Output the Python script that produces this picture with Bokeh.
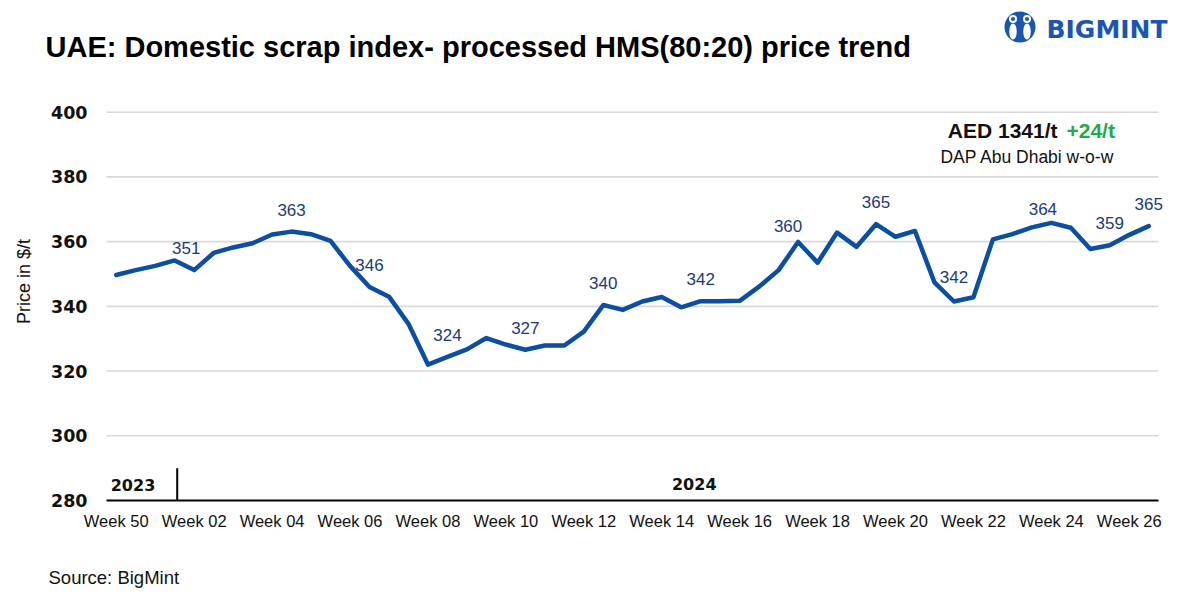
from bokeh.plotting import figure
from bokeh.models import FixedTicker, Range1d, ColumnDataSource
from bokeh.core.properties import value
from bokeh.embed import file_html
from bokeh.resources import INLINE

# ---------------- data ----------------
prices = [349.7, 351.2, 352.5, 354.2, 351.2, 356.5, 358.2, 359.5, 362.2, 363.1,
          362.3, 360.2, 352.5, 346.0, 343.0, 334.6, 322.0, 324.4, 326.7, 330.2,
          328.2, 326.6, 327.9, 327.9, 332.2, 340.4, 338.9, 341.5, 342.9, 339.7,
          341.6, 341.6, 341.7, 346.1, 351.2, 359.9, 353.5, 362.8, 358.4, 365.4,
          361.5, 363.3, 347.4, 341.5, 342.8, 360.7, 362.3, 364.4, 365.8, 364.3,
          357.7, 358.9, 362.1, 364.8]
tick_labels = ["Week 50", "Week 02", "Week 04", "Week 06", "Week 08", "Week 10",
               "Week 12", "Week 14", "Week 16", "Week 18", "Week 20", "Week 22",
               "Week 24", "Week 26"]
labelled_points = [4, 9, 13, 17, 21, 25, 30, 35, 39, 43, 47, 51, 53]
year_labels = ["2023", "2024"]
y_ticks = [280, 300, 320, 340, 360, 380, 400]

TITLE = "UAE: Domestic scrap index- processed HMS(80:20) price trend"
BLUE = "#0B4EA2"
LOGO_BLUE = "#1A56B0"
GRID = "#d9d9d9"

# ---------------- geometry (page pixels) ----------------
W, H = 1200, 600
FL, FR, FT, FB = 106, 1158, 111.7, 500     # plot-area edges
N = len(prices)
Y0, Y1 = 280, 400

step = (FR - FL) / N
ppu = (FB - FT) / (Y1 - Y0)
x_lo = -0.5 - FL / step
x_hi = -0.5 + (W - FL) / step
y_lo = Y0 - (H - FB) / ppu
y_hi = Y1 + FT / ppu

p = figure(width=W, height=H, output_backend="svg", toolbar_location=None,
           x_range=Range1d(x_lo, x_hi), y_range=Range1d(y_lo, y_hi),
           min_border=0)
p.extra_x_ranges = {"px": Range1d(0, W)}
p.extra_y_ranges = {"py": Range1d(H, 0)}
p.outline_line_color = None
p.background_fill_color = "white"
p.border_fill_color = "white"
p.xgrid.visible = False
p.ygrid.visible = False

# ---------------- axes (fixed inside the canvas) ----------------
xs = list(range(N))
tick_pos = [4 * i for i in range(len(tick_labels))]

p.yaxis.fixed_location = -0.5
p.yaxis.bounds = (Y0, Y1)
p.yaxis.ticker = FixedTicker(ticks=y_ticks)
p.yaxis.axis_line_color = None
p.yaxis.major_tick_line_color = None
p.yaxis.major_tick_out = 0
p.yaxis.major_tick_in = 0
p.yaxis.minor_tick_line_color = None
p.yaxis.major_label_text_font = "DejaVu Sans"
p.yaxis.major_label_text_font_style = "bold"
p.yaxis.major_label_text_font_size = "17.5px"
p.yaxis.major_label_text_color = "#111111"
p.yaxis.major_label_standoff = 19

p.xaxis.fixed_location = Y0
p.xaxis.bounds = (-0.5, N - 0.5)
p.xaxis.ticker = FixedTicker(ticks=tick_pos)
p.xaxis.major_label_overrides = {t: l for t, l in zip(tick_pos, tick_labels)}
p.xaxis.axis_line_color = "black"
p.xaxis.axis_line_width = 2
p.xaxis.major_tick_line_color = None
p.xaxis.major_tick_out = 0
p.xaxis.major_tick_in = 0
p.xaxis.minor_tick_line_color = None
p.xaxis.major_label_text_font = "Liberation Sans"
p.xaxis.major_label_text_font_size = "16.5px"
p.xaxis.major_label_text_color = "#111111"
p.xaxis.major_label_standoff = 11

# horizontal grid lines over the plot area only
gl = y_ticks[1:]
p.segment(x0=[-0.5] * len(gl), x1=[N - 0.5] * len(gl), y0=gl, y1=gl,
          line_color=GRID, line_width=1.6)

# year divider + year labels
year_break = 3.13
p.segment(x0=[year_break], y0=[Y0], x1=[year_break], y1=[290],
          line_color="black", line_width=2)
p.text(x=[0.86, 29.67], y=[284.9, 285.1], text=year_labels,
       text_font=value("DejaVu Sans"), text_font_style="bold",
       text_font_size="16px", text_align="center", text_baseline="middle",
       text_color="#111111")

# price line
p.line(xs, prices, line_color=BLUE, line_width=4.5, line_join="round",
       line_cap="round")

# data labels
dx = {4: -8, 35: -10, 47: 11}
dy = {35: -16, 47: -18, 43: -24}
src = ColumnDataSource(dict(
    x=labelled_points,
    y=[prices[i] for i in labelled_points],
    t=[f"{prices[i]:.0f}" for i in labelled_points],
    xo=[dx.get(i, 0) for i in labelled_points],
    yo=[dy.get(i, -22) for i in labelled_points],
))
p.text(x="x", y="y", text="t", x_offset="xo", y_offset="yo", source=src,
       text_font=value("Liberation Sans"), text_font_size="17px",
       text_align="center", text_baseline="middle", text_color="#1C3A78")

# ---------------- page-pixel decorations ----------------
PX = dict(x_range_name="px", y_range_name="py")

def txt(x, y, s, size, font="Liberation Sans", bold=False, color="#111111",
        align="left", angle=0):
    p.text(x=[x], y=[y], text=[s], text_font=value(font),
           text_font_style="bold" if bold else "normal",
           text_font_size=size, text_color=color, text_align=align,
           text_baseline="middle", angle=angle, angle_units="deg", **PX)

txt(45, 46, TITLE, "29px", bold=True, color="#000000")
txt(23, 281, "Price in $/t", "18px", align="center", angle=90)
txt(48, 577, "Source: BigMint", "18.5px")
txt(1057, 130, "AED 1341/t", "21px", bold=True, align="right")
txt(1066, 130, "+24/t", "21px", bold=True, color="#1FAA4B")
txt(1027, 156, "DAP Abu Dhabi w-o-w", "17.5px", align="center")

# logo
p.circle(x=[1019.5], y=[26.5], radius=15.5, fill_color=LOGO_BLUE,
         line_color=None, **PX)
p.ellipse(x=[1012.5, 1026.5], y=[31, 31], width=7.5, height=16,
          fill_color="white", line_color=None, **PX)
p.circle(x=[1012.5, 1026.5], y=[18.5, 18.5], radius=4.0,
         fill_color="white", line_color=None, **PX)
p.circle(x=[1012.5, 1026.5], y=[18.5, 18.5], radius=2.0,
         fill_color=LOGO_BLUE, line_color=None, **PX)
txt(1046, 28.5, "BIGMINT", "25px", font="DejaVu Sans", bold=True,
    color=LOGO_BLUE)

open("out.html", "w").write(file_html(p, INLINE))
